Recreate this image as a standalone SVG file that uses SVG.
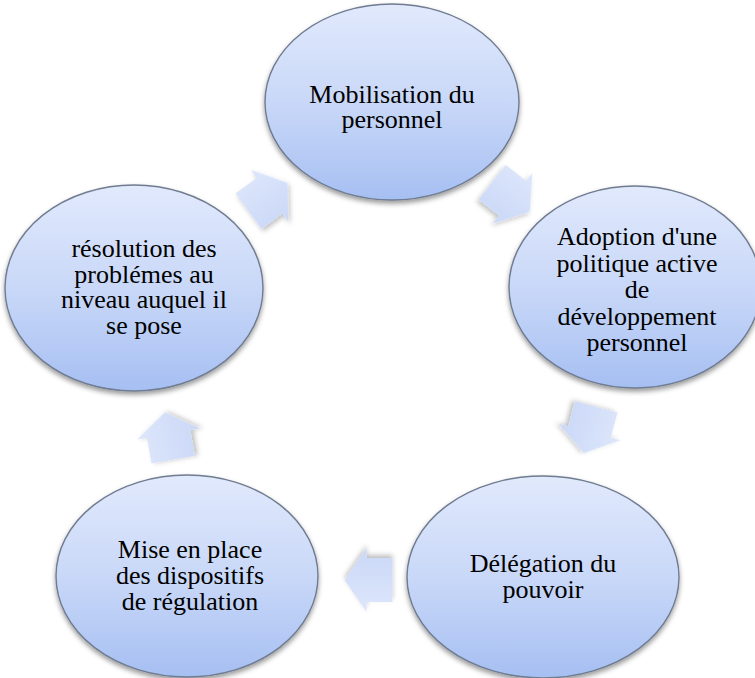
<svg xmlns="http://www.w3.org/2000/svg" width="755" height="678" viewBox="0 0 755 678">
  <defs>
    <linearGradient id="nodeFill" x1="0" y1="0" x2="0" y2="1">
      <stop offset="0" stop-color="#e1e9fc"/>
      <stop offset="0.5" stop-color="#c9d8f8"/>
      <stop offset="1" stop-color="#a6bff2"/>
    </linearGradient>
    <linearGradient id="arrowFill" x1="0" y1="0" x2="0" y2="1">
      <stop offset="0" stop-color="#dde6fb"/>
      <stop offset="1" stop-color="#cad8f7"/>
    </linearGradient>
    <filter id="nodeShadow" x="-10%" y="-10%" width="120%" height="125%">
      <feDropShadow dx="0" dy="3" stdDeviation="2.5" flood-color="#000" flood-opacity="0.4"/>
    </filter>
    <filter id="arrowShadow" x="-30%" y="-30%" width="160%" height="160%">
      <feDropShadow dx="0" dy="3" stdDeviation="2.5" flood-color="#000" flood-opacity="0.25"/>
    </filter>
    <!-- block arrow pointing along +x, centred on the origin -->
    <path id="blockArrow" d="M-24,-22 H2 V-32 L24,0 L2,32 V22 H-24 Z"/>
  </defs>
  <style>
    .node ellipse { fill: url(#nodeFill); stroke: #6f7b90; stroke-width: 1.4; filter: url(#nodeShadow); }
    .arrow { fill: url(#arrowFill); filter: url(#arrowShadow); }
    .lbl { font-family: "Liberation Serif", "Times New Roman", "DejaVu Serif", serif; font-size: 26px; fill: #000; text-anchor: middle; }
  </style>

  <g id="connectors">
    <use href="#blockArrow" class="arrow" transform="translate(511,197) rotate(38)"/>
    <use href="#blockArrow" class="arrow" transform="translate(590,430) rotate(105)"/>
    <use href="#blockArrow" class="arrow" transform="translate(368.5,580) rotate(180)"/>
    <use href="#blockArrow" class="arrow" transform="translate(169,436) rotate(-100)"/>
    <use href="#blockArrow" class="arrow" transform="translate(268,197) rotate(-36)"/>
  </g>

  <g id="node-mobilisation" class="node">
    <ellipse cx="392" cy="102" rx="127" ry="98"/>
    <text class="lbl" x="392" y="103">Mobilisation du</text>
    <text class="lbl" x="392" y="128">personnel</text>
  </g>

  <g id="node-adoption" class="node">
    <ellipse cx="635" cy="287" rx="126" ry="101"/>
    <text class="lbl" x="637" y="245">Adoption d'une</text>
    <text class="lbl" x="637" y="271.5">politique active</text>
    <text class="lbl" x="637" y="298">de</text>
    <text class="lbl" x="637" y="324.5">développement</text>
    <text class="lbl" x="637" y="351">personnel</text>
  </g>

  <g id="node-delegation" class="node">
    <ellipse cx="543" cy="577" rx="136" ry="101"/>
    <text class="lbl" x="543" y="572">Délégation du</text>
    <text class="lbl" x="543" y="598">pouvoir</text>
  </g>

  <g id="node-regulation" class="node">
    <ellipse cx="187" cy="576" rx="131" ry="101"/>
    <text class="lbl" x="190" y="558">Mise en place</text>
    <text class="lbl" x="190" y="584">des dispositifs</text>
    <text class="lbl" x="190" y="610">de régulation</text>
  </g>

  <g id="node-resolution" class="node">
    <ellipse cx="134" cy="288" rx="129" ry="103"/>
    <text class="lbl" x="144" y="257">résolution des</text>
    <text class="lbl" x="144" y="282.5">problémes au</text>
    <text class="lbl" x="144" y="308">niveau auquel il</text>
    <text class="lbl" x="144" y="333.5">se pose</text>
  </g>
</svg>
